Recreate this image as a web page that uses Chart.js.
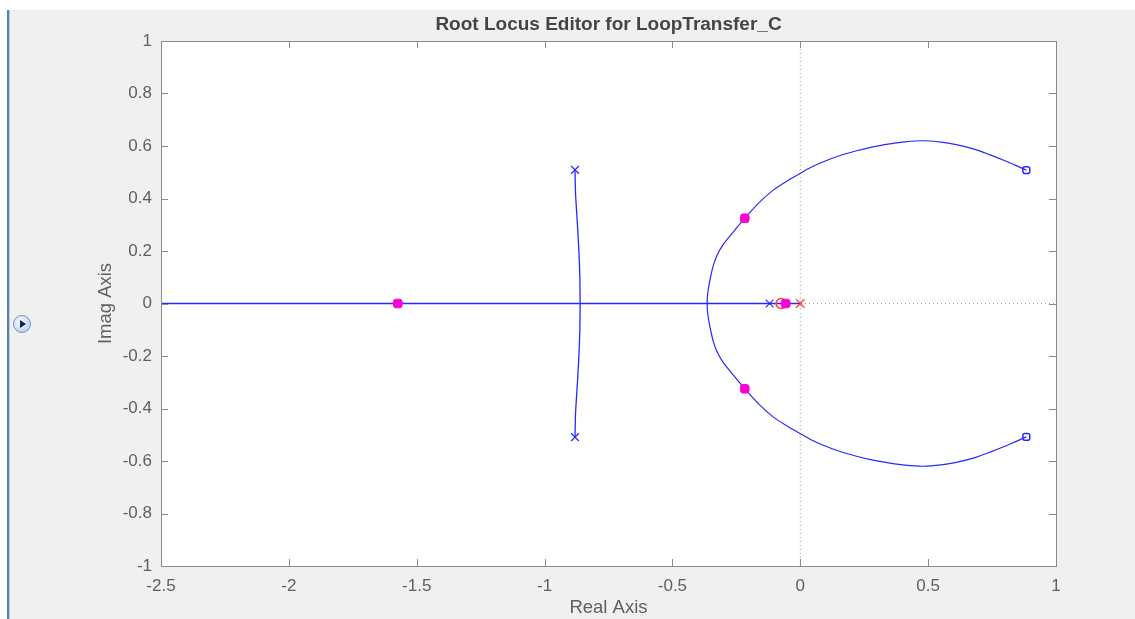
<!DOCTYPE html>
<html>
<head>
<meta charset="utf-8">
<title>Root Locus Editor for LoopTransfer_C</title>
<script src="https://cdn.jsdelivr.net/npm/chart.js@4.4.1/dist/chart.umd.min.js"></script>
<style>
    html, body { margin: 0; padding: 0; background: #ffffff; }
    #wrap { position: relative; width: 1135px; height: 619px; overflow: hidden; }
    #panel { position: absolute; left: 10px; top: 10px; right: 0; bottom: 0; background: #f0f0f0; }
    #edge { position: absolute; left: 7px; top: 10px; width: 2px; bottom: 0; background: #5a80ad; }
    #edge2 { position: absolute; left: 9px; top: 10px; width: 1px; bottom: 0; background: #b9cbe0; }
    #btn {
        position: absolute; left: 13px; top: 315px; width: 16px; height: 16px; border-radius: 50%;
        border: 1px solid #7496c4;
        background: radial-gradient(circle at 40% 35%, #f4f9ff 0%, #cfe0f3 55%, #9fbde2 100%);
    }
    #btn:after {
        content: ''; position: absolute; left: 6px; top: 4px; width: 0; height: 0;
        border-top: 4px solid transparent; border-bottom: 4px solid transparent;
        border-left: 6px solid #14224f;
    }
    #chart { position: absolute; left: 0; top: 0; }
</style>
</head>
<body>
<div id="wrap">
    <div id="panel"></div>
    <div id="edge"></div>
    <div id="edge2"></div>
    <div id="btn"></div>
    <canvas id="chart" width="1135" height="619"></canvas>
</div>
<script>
// axis ticks
const xTickValues = [-2.5, -2, -1.5, -1, -0.5, 0, 0.5, 1];
const xTickLabels = ['-2.5', '-2', '-1.5', '-1', '-0.5', '0', '0.5', '1'];
const yTickValues = [-1, -0.8, -0.6, -0.4, -0.2, 0, 0.2, 0.4, 0.6, 0.8, 1];
const yTickLabels = ['-1', '-0.8', '-0.6', '-0.4', '-0.2', '0', '0.2', '0.4', '0.6', '0.8', '1'];

// locus on the real axis
const realLocusX = [-2.5, 0];
const realLocusY = [0, 0];

// branch leaving the complex poles near -0.88
const branchX = [-0.881, -0.879, -0.874, -0.871, -0.866, -0.862, -0.861, -0.862, -0.866, -0.871, -0.874, -0.879, -0.881];
const branchY = [0.509, 0.42, 0.34, 0.293, 0.204, 0.102, 0, -0.102, -0.204, -0.293, -0.34, -0.42, -0.509];

// big loop ending in the complex zeros
const arcX = [0.884, 0.84, 0.80, 0.74, 0.68, 0.61, 0.55, 0.48, 0.41, 0.35, 0.28, 0.22, 0.15, 0.09, 0.04, 0.0,
    -0.05, -0.106, -0.16, -0.217, -0.26, -0.301, -0.325, -0.34, -0.351, -0.358, -0.363, -0.364,
    -0.363, -0.358, -0.351, -0.34, -0.325, -0.301, -0.26, -0.217, -0.16, -0.106, -0.05,
    0.0, 0.04, 0.09, 0.15, 0.22, 0.28, 0.35, 0.41, 0.48, 0.55, 0.61, 0.68, 0.74, 0.80, 0.84, 0.884];
const arcY = [0.508, 0.527, 0.544, 0.567, 0.588, 0.605, 0.615, 0.620, 0.616, 0.608, 0.596, 0.582, 0.562, 0.540, 0.518, 0.496,
    0.468, 0.432, 0.385, 0.325, 0.275, 0.225, 0.185, 0.145, 0.10, 0.064, 0.03, 0,
    -0.03, -0.064, -0.10, -0.145, -0.185, -0.225, -0.275, -0.325, -0.385, -0.432, -0.468,
    -0.496, -0.518, -0.540, -0.562, -0.582, -0.596, -0.608, -0.616, -0.620, -0.615, -0.605, -0.588, -0.567, -0.544, -0.527, -0.508];

// open loop poles / zeros
const plantPoleX = [-0.881, -0.881, -0.12];
const plantPoleY = [0.509, -0.509, 0];
const plantZeroX = [0.884, 0.884];
const plantZeroY = [0.508, -0.508];
const compZeroX = [-0.075];
const compZeroY = [0];
const compPoleX = [0];
const compPoleY = [0];

// closed loop poles
const clPoleX = [-1.574, -0.217, -0.217, -0.057];
const clPoleY = [0, 0.325, -0.325, 0];

// dotted reference lines
const vRefX = [0, 0];
const vRefY = [-1, 1];
const hRefX = [-2.5, 1];
const hRefY = [0, 0];

const BLUE = 'rgb(40, 40, 255)';
const RED = 'rgb(255, 60, 60)';
const MAGENTA = 'rgb(255, 0, 210)';
const AXIS = '#8a8a8a';
const TEXT = '#5f5f5f';

Chart.defaults.font.family = "'Liberation Sans', Arial, Helvetica, sans-serif";

function pts(xs, ys) {
    return xs.map((x, i) => ({ x: x, y: ys[i] }));
}

function marker(xs, ys, style, color, fill, r, bw) {
    return {
        data: pts(xs, ys),
        showLine: false,
        pointStyle: style,
        pointRadius: r,
        pointBorderColor: color,
        pointBackgroundColor: fill,
        pointBorderWidth: bw
    };
}

function curve(xs, ys, color, width, dash, tension) {
    return {
        data: pts(xs, ys),
        showLine: true,
        borderColor: color,
        borderWidth: width,
        borderDash: dash,
        tension: tension,
        pointRadius: 0
    };
}

// white plot box, MATLAB style frame with inward ticks, texts
const matlabFrame = {
    id: 'matlabFrame',
    beforeDatasetsDraw(chart) {
        const a = chart.chartArea;
        const ctx = chart.ctx;
        ctx.save();
        ctx.fillStyle = '#ffffff';
        ctx.fillRect(a.left, a.top, a.right - a.left, a.bottom - a.top);
        ctx.restore();
    },
    afterDraw(chart) {
        const a = chart.chartArea;
        const ctx = chart.ctx;
        const xs = chart.scales.x;
        const ys = chart.scales.y;
        const tl = 7;
        ctx.save();
        ctx.strokeStyle = AXIS;
        ctx.lineWidth = 1;
        ctx.beginPath();
        xTickValues.forEach(v => {
            const px = Math.round(xs.getPixelForValue(v)) + 0.5;
            ctx.moveTo(px, a.bottom);
            ctx.lineTo(px, a.bottom - tl);
            ctx.moveTo(px, a.top);
            ctx.lineTo(px, a.top + tl);
        });
        yTickValues.forEach(v => {
            const py = Math.round(ys.getPixelForValue(v)) + 0.5;
            ctx.moveTo(a.left, py);
            ctx.lineTo(a.left + tl, py);
            ctx.moveTo(a.right, py);
            ctx.lineTo(a.right - tl, py);
        });
        ctx.stroke();
        ctx.strokeRect(Math.round(a.left) + 0.5, Math.round(a.top) + 0.5,
            Math.round(a.right - a.left), Math.round(a.bottom - a.top));

        const cx = (a.left + a.right) / 2;
        ctx.fillStyle = '#454545';
        ctx.textAlign = 'center';
        ctx.textBaseline = 'middle';
        ctx.font = "bold 19px 'Liberation Sans', Arial, sans-serif";
        ctx.fillText('Root Locus Editor for LoopTransfer_C', cx, 25);

        ctx.fillStyle = TEXT;
        ctx.font = "18.5px 'Liberation Sans', Arial, sans-serif";
        ctx.fillText('Real Axis', cx, 608);
        ctx.translate(106, (a.top + a.bottom) / 2);
        ctx.rotate(-Math.PI / 2);
        ctx.fillText('Imag Axis', 0, 0);
        ctx.restore();
    }
};

new Chart(document.getElementById('chart'), {
    type: 'scatter',
    data: {
        datasets: [
            marker(clPoleX, clPoleY, 'rectRounded', MAGENTA, MAGENTA, 5, 1),
            marker(compPoleX, compPoleY, 'crossRot', RED, 'rgba(0,0,0,0)', 6, 1.2),
            marker(compZeroX, compZeroY, 'circle', RED, 'rgba(0,0,0,0)', 5, 1.5),
            marker(plantZeroX, plantZeroY, 'rectRounded', BLUE, 'rgba(0,0,0,0)', 4, 1.5),
            marker(plantPoleX, plantPoleY, 'crossRot', BLUE, 'rgba(0,0,0,0)', 5.5, 1.2),
            curve(realLocusX, realLocusY, BLUE, 1.3, [], 0),
            curve(branchX, branchY, BLUE, 1.3, [], 0.2),
            curve(arcX, arcY, BLUE, 1.2, [], 0.25),
            curve(vRefX, vRefY, '#9a9a9a', 1, [1, 3], 0),
            curve(hRefX, hRefY, '#9a9a9a', 1, [1, 3], 0)
        ]
    },
    options: {
        responsive: false,
        animation: false,
        events: [],
        layout: { padding: { left: 0, right: 79, top: 41, bottom: 0 } },
        plugins: {
            legend: { display: false },
            title: { display: false },
            tooltip: { enabled: false }
        },
        scales: {
            x: {
                type: 'linear',
                min: -2.5,
                max: 1,
                grid: { display: false, drawTicks: false },
                border: { display: false },
                afterBuildTicks: s => { s.ticks = xTickValues.map(v => ({ value: v })); },
                afterFit: s => { s.height = 53; },
                ticks: {
                    autoSkip: false,
                    maxRotation: 0,
                    padding: 10,
                    color: TEXT,
                    font: { size: 17 },
                    callback: (v, i) => xTickLabels[i]
                }
            },
            y: {
                type: 'linear',
                min: -1,
                max: 1,
                grid: { display: false, drawTicks: false },
                border: { display: false },
                afterBuildTicks: s => { s.ticks = yTickValues.map(v => ({ value: v })); },
                afterFit: s => { s.width = 161; },
                ticks: {
                    autoSkip: false,
                    padding: 9,
                    color: TEXT,
                    font: { size: 17 },
                    callback: (v, i) => yTickLabels[i]
                }
            }
        }
    },
    plugins: [matlabFrame]
});
</script>
</body>
</html>
